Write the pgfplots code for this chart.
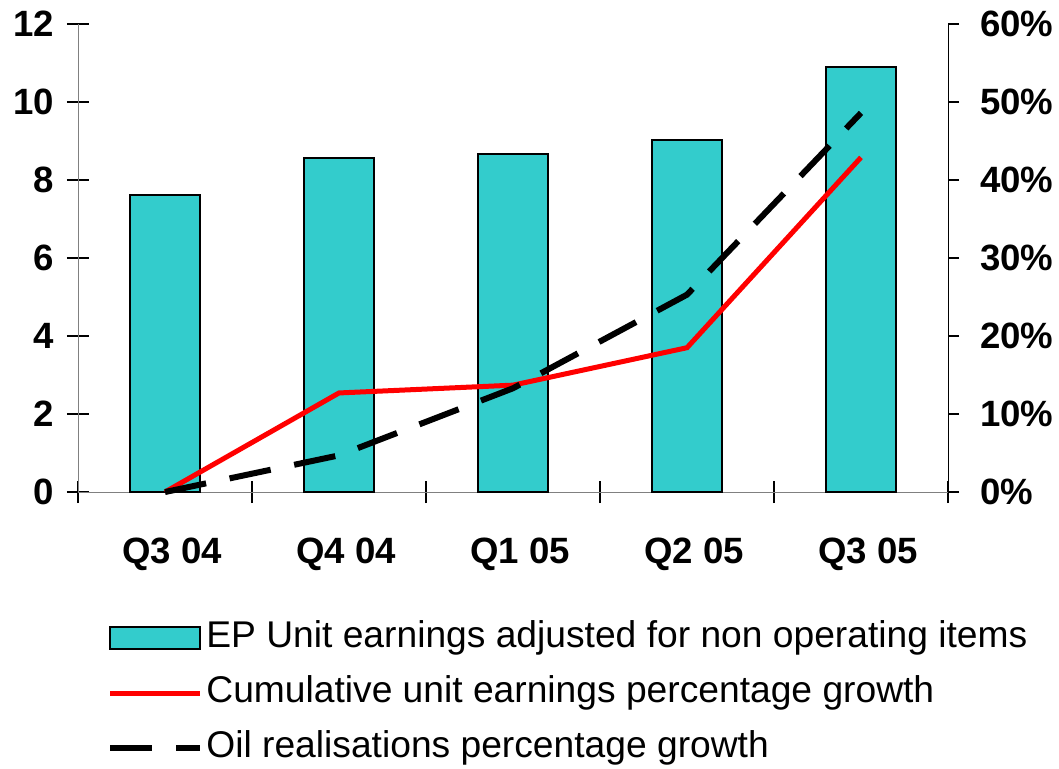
\documentclass[border=0pt]{standalone}
\usepackage{fontspec}
\setmainfont{Liberation Sans}
\usepackage{pgfplots}
\pgfplotsset{compat=1.18}
\definecolor{barcyan}{RGB}{51,204,204}
\pgfplotsset{
  barlegend/.style={legend image code/.code={\draw[##1] (0pt,-5.5pt) rectangle (45pt,5.5pt);}},
  linelegend/.style={legend image code/.code={\draw[##1] (0pt,0pt) -- (45pt,0pt);}}
}
\begin{document}
\begin{tikzpicture}
\useasboundingbox (-39pt,-138pt) rectangle (490.5pt,246pt);
\begin{axis}[at={(0,0)}, anchor=south west, scale only axis, width=435pt, height=234pt,
  xmin=-0.5, xmax=4.5, ymin=0, ymax=12,
  axis x line*=bottom, axis y line*=left, axis line style={-, draw=gray},
  xtick={-0.5,0.5,...,4.5}, xticklabels={},
  extra x ticks={0,1,2,3,4},
  extra x tick labels={Q3 04,Q4 04,Q1 05,Q2 05,Q3 05},
  extra x tick style={major tick length=0pt, xticklabel style={yshift=-19.5pt, xshift=3.5pt}},
  ytick={0,2,...,12},
  yticklabel style={xshift=-3pt},
  tick align=center, major tick length=11pt, tick style={black, line width=0.6pt},
  ticklabel style={font=\fontsize{18.3}{18.3}\selectfont\bfseries},
  /pgf/number format/assume math mode=true,
  clip=false]
\addplot[ybar, bar width=35pt, fill=barcyan, draw=black, line width=1pt]
  coordinates {(0,7.62) (1,8.56) (2,8.67) (3,9.03) (4,10.9)};
\end{axis}
\begin{axis}[at={(0,0)}, anchor=south west, scale only axis, width=435pt, height=234pt,
  xmin=-0.5, xmax=4.5, ymin=0, ymax=60,
  axis x line=none, axis y line*=right, axis line style={-, draw=black},
  ytick={0,10,...,60}, yticklabel={\pgfmathprintnumber{\tick}\%},
  yticklabel style={xshift=7pt},
  tick align=outside, major tick length=5.5pt, tick style={black, line width=0.6pt},
  ticklabel style={font=\fontsize{18.3}{18.3}\selectfont\bfseries},
  /pgf/number format/assume math mode=true,
  clip=false,
  linelegend,
  legend cell align=left,
  legend style={at={(0,0)}, anchor=north west, xshift=14.5pt, yshift=-64.5pt,
    draw=none, fill=none, inner sep=0pt,
    font=\fontsize{18.6}{18.6}\selectfont,
    nodes={inner sep=0pt, text height=13pt, text depth=4pt},
    row sep=10.5pt,
    /tikz/every odd column/.append style={column sep=1.5pt}}]
\addlegendimage{barlegend, fill=barcyan, draw=black, line width=1pt}
\addlegendentry{EP Unit earnings adjusted for non operating items}
\addplot[red, line width=2.5pt] coordinates {(0,0) (1,12.7) (2,13.7) (3,18.5) (4,42.9)};
\addlegendentry{Cumulative unit earnings percentage growth}
\addplot[black, line width=3pt, dash pattern=on 21pt off 12pt]
  coordinates {(0,0) (1,4.7) (2,13.3) (3,25.3) (4,48.6)};
\addlegendentry{Oil realisations percentage growth}
\end{axis}
\end{tikzpicture}
\end{document}
